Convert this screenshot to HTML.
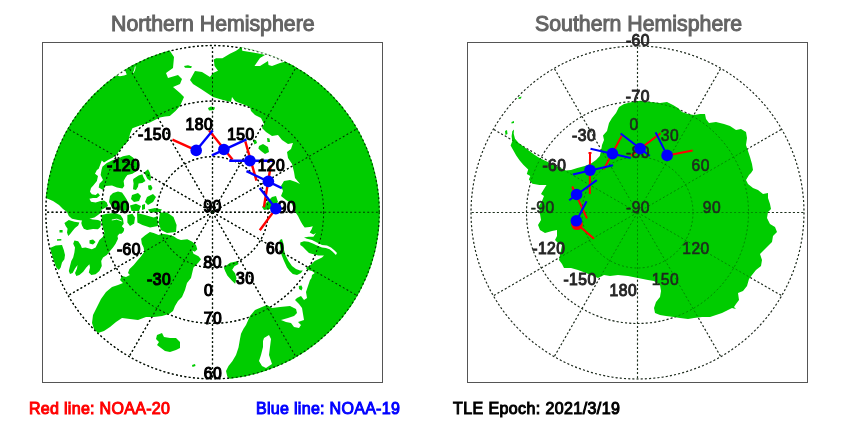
<!DOCTYPE html>
<html>
<head>
<meta charset="utf-8">
<title>Polar hemispheres</title>
<style>
html,body{margin:0;padding:0;background:#fff;}
body{width:850px;height:425px;position:relative;overflow:hidden;font-family:"Liberation Sans",sans-serif;}
svg{position:absolute;left:0;top:0;display:block;will-change:transform;}
.ttl,.leg{will-change:transform;}
.ttl{position:absolute;top:12.3px;font-size:21.3px;line-height:24px;color:#646464;white-space:nowrap;letter-spacing:0px;-webkit-text-stroke:1.0px currentColor;}
.leg{position:absolute;top:398.8px;font-size:16px;line-height:20px;white-space:nowrap;-webkit-text-stroke:1.0px currentColor;letter-spacing:0.3px;}
svg text{font-family:"Liberation Sans",sans-serif;font-size:15.6px;text-anchor:middle;letter-spacing:0.5px;}
.nl text{fill:#000;stroke:#000;stroke-width:1.2px;}
.sl text{fill:#262626;stroke:#262626;stroke-width:1.0px;}
.sl text.g{fill:#1e2a1e;stroke:#1e2a1e;stroke-width:0.6px;}
</style>
</head>
<body>
<svg width="850" height="425" viewBox="0 0 850 425">
<defs>
<clipPath id="cn"><circle cx="212.5" cy="212.2" r="167.4"/></clipPath>
<clipPath id="cs"><circle cx="637.5" cy="212.5" r="167.2"/></clipPath>
</defs>
<rect x="0" y="0" width="850" height="425" fill="#fff"/>
<g fill="none" stroke="#000" stroke-opacity="1.0" stroke-width="1.35" stroke-dasharray="1.9 2.4"><circle cx="212.5" cy="212.2" r="55.57"/><circle cx="212.5" cy="212.2" r="111.13"/><circle cx="212.5" cy="212.2" r="166.70"/><line x1="212.5" y1="212.2" x2="212.5" y2="45.5"/><line x1="212.5" y1="212.2" x2="295.8" y2="67.8"/><line x1="212.5" y1="212.2" x2="356.9" y2="128.8"/><line x1="212.5" y1="212.2" x2="379.2" y2="212.2"/><line x1="212.5" y1="212.2" x2="356.9" y2="295.5"/><line x1="212.5" y1="212.2" x2="295.8" y2="356.6"/><line x1="212.5" y1="212.2" x2="212.5" y2="378.9"/><line x1="212.5" y1="212.2" x2="129.1" y2="356.6"/><line x1="212.5" y1="212.2" x2="68.1" y2="295.6"/><line x1="212.5" y1="212.2" x2="45.8" y2="212.2"/><line x1="212.5" y1="212.2" x2="68.1" y2="128.8"/><line x1="212.5" y1="212.2" x2="129.1" y2="67.8"/></g>
<g fill="none" stroke="#303030" stroke-opacity="1.0" stroke-width="1.15" stroke-dasharray="2 2.2"><circle cx="637.5" cy="212.5" r="55.50"/><circle cx="637.5" cy="212.5" r="111.00"/><circle cx="637.5" cy="212.5" r="166.50"/><line x1="637.5" y1="212.5" x2="637.5" y2="46.0"/><line x1="637.5" y1="212.5" x2="720.8" y2="68.3"/><line x1="637.5" y1="212.5" x2="781.7" y2="129.2"/><line x1="637.5" y1="212.5" x2="804.0" y2="212.5"/><line x1="637.5" y1="212.5" x2="781.7" y2="295.7"/><line x1="637.5" y1="212.5" x2="720.8" y2="356.7"/><line x1="637.5" y1="212.5" x2="637.5" y2="379.0"/><line x1="637.5" y1="212.5" x2="554.2" y2="356.7"/><line x1="637.5" y1="212.5" x2="493.3" y2="295.8"/><line x1="637.5" y1="212.5" x2="471.0" y2="212.5"/><line x1="637.5" y1="212.5" x2="493.3" y2="129.2"/><line x1="637.5" y1="212.5" x2="554.2" y2="68.3"/></g>
<!-- Northern hemisphere land -->
<g clip-path="url(#cn)">
<path d="M172,40 L170,51 L174,57 L173,68 L166,73 L168,78 L178,75 L182,79 L180,84 L173,87 L180,93 L184,97 L180,106 L175.5,111 L169.8,116 L165,116.6 L159.8,117.6 L149.9,122.5 L139.9,125.6 L132.4,128.3 L130,134 L128.6,140 L126,143.7 L123,146 L121,149 L118.7,151.8 L116,155 L113,157.5 L108,160 L104,162.4 L101.8,160.6 L100.6,163.7 L98.7,168.7 L96.9,170 L95,173.7 L98,176 L96.9,181 L93.7,185 L91,188 L90,191.8 L91.9,194.3 L95.6,195 L98,193 L100,195.5 L96.9,198 L93,198 L89.4,198.7 L91,201.8 L95.6,202.4 L100.6,201 L104,200.5 L106.8,202.4 L108,206 L104,208.6 L101,210 L100.5,213 L98,215 L94.4,217.5 L89.4,218.7 L93,219.5 L98,220 L100.9,221.2 L100.6,226.8 L98,229.3 L93,229 L87,230 L83.8,228.7 L82,225.6 L81.3,223 L82,220.6 L78,220 L72,218.7 L68.8,216 L67,212 L63,209 L59,205 L53,201 L46,198 L36,198 L30,150 L40,100 L80,50 L130,30Z" fill="#00cc00"/>
<path d="M102.4,166.8 L106.8,163 L113,160 L117.4,158.7 L123,156.2 L129.3,155 L133,157.5 L135.5,160.6 L138.6,165 L136.7,171 L132.4,173.7 L127.4,175 L125.5,177.4 L123.6,181 L124.3,186 L122.4,188.6 L117,187.4 L112,185.6 L105.6,186 L103,190 L98.7,187.4 L99.4,183.7 L103,180 L100.6,175 L101.5,170Z" fill="#00cc00"/>
<path d="M133.6,178.7 L138.6,175.5 L142.3,174.3 L143.6,177.4 L145.5,181 L142.3,183 L138.6,183.6 L138,186.8 L136,189.9 L133,189.3 L133.6,183.6 L133,179.9Z" fill="#00cc00"/>
<path d="M144.2,172.4 L148,169.3 L149.8,172.4 L151,177.4 L150.4,181 L147.3,178.7 L145.5,175Z" fill="#00cc00"/>
<path d="M148,185.5 L151,185 L152.5,188 L151,190.5 L148.5,189.5Z" fill="#00cc00"/>
<path d="M110,196 L113,193 L118,191.5 L122,192.5 L124.5,196 L127,200 L129,205 L128,210 L123,211 L117,210 L112,207 L109,202Z" fill="#00cc00"/>
<path d="M132,195 L138,193 L141,196 L139,201 L134,202 L131,199Z" fill="#00cc00"/>
<path d="M147,197 L153,194 L156,197 L153,202 L148,205 L145,202Z" fill="#00cc00"/>
<path d="M142,205 L145,204 L145,209 L142,210Z" fill="#00cc00"/>
<path d="M130,205.5 L136,203.7 L141,206 L139,211 L131.5,211Z" fill="#00cc00"/>
<path d="M148,209.5 L155,208 L162,209.5 L160,212 L150,212.5Z" fill="#00cc00"/>
<path d="M160,212.5 L167,212.5 L173.5,217 L176.6,225 L176,232 L167,233 L161,230 L158.5,222.5Z" fill="#00cc00"/>
<path d="M137,213 L145,215 L153.6,217.4 L157.4,216.2 L158,226 L150,227.4 L142.4,225 L137.4,222.4Z" fill="#00cc00"/>
<path d="M127.4,215 L132.4,213.7 L135,217.4 L134.2,223.6 L130,226 L127.4,222.4Z" fill="#00cc00"/>
<path d="M101.9,215 L106.8,213.7 L114.3,213 L120.5,215 L123,218.7 L123.7,223.7 L121.8,226.2 L124.3,228.7 L123,232.4 L119.3,233.7 L117.5,236 L118,238.7 L115.6,243.7 L113,247.4 L110,251 L106.8,255 L103,257.4 L101.2,261 L101.8,266 L99.4,271 L95.6,274.3 L91.3,275 L88.8,272.4 L90,267.4 L89.4,264.3 L86.3,267.4 L83.2,271.7 L79.4,275 L76.3,276 L75,273 L77,268.6 L77.5,264.9 L75,268.6 L72.6,273 L70,274 L68.8,271 L70,266 L71.3,261 L73.2,257.4 L74.4,252.4 L75,247.4 L73.2,243.7 L74.4,240.6 L78.2,241.2 L80.7,245 L81.9,248 L85.6,247.4 L91.9,249.3 L95.6,247.4 L97.5,243.7 L99.4,240 L103,236.8 L104.4,232.5 L103,228 L101.5,221Z" fill="#00cc00"/>
<path d="M64.4,223 L68.8,220 L74.4,221.8 L79.4,222.4 L78.2,225.6 L75,228 L72.5,231 L70,234.3 L68.2,236 L67,232.4 L67.6,228.7 L65.7,226Z" fill="#00cc00"/>
<path d="M50,248 L55.7,245.6 L62,245 L63.8,250 L65,255 L64.4,259.3 L62,262.4 L60.7,267.4 L58.8,270 L56.3,267.4 L53.8,261 L52,255Z" fill="#00cc00"/>
<path d="M57,239.3 L61.3,239 L61.3,240.6 L57,240.8Z" fill="#00cc00"/>
<path d="M59.5,230 L62.6,230 L62.6,232.5 L59.5,232.5Z" fill="#00cc00"/>
<path d="M118.5,228 L121.2,227.6 L124,230.6 L121.2,234 L118.5,232.5Z" fill="#00cc00"/>
<path d="M141.1,238.7 L144.9,235.6 L149.9,231.9 L153.6,233.1 L158.6,235 L162.3,233.7 L167.3,234.4 L173.6,236.2 L177.3,238.7 L181,240 L187.3,239.3 L192.3,241.8 L196,245 L197.3,249.3 L194.8,251.8 L192.3,250.6 L193.5,253.7 L198.5,256.2 L201,259.3 L198.5,262.4 L196,264.9 L193.5,267.4 L192.3,272.4 L191,278 L187,283 L185,290 L182,297 L178,301 L175,306 L173,311 L169,314 L162,316 L154,317 L146,317 L138,320 L130,319 L122,318 L116,322 L110,327 L104,331 L98,333 L94,329 L92,323 L93,315 L97,307 L101,299 L106,292 L112,287 L118,285 L123,283 L120,280 L122,276 L126,277 L129.9,274.9 L128,273 L129.3,269.3 L133.7,264.9 L137.4,260.5 L141.1,256.2 L144.3,251.8 L143.6,247.4 L141.8,243.7Z" fill="#00cc00"/>
<path d="M157,335 L162,333 L164,337 L170,338 L176,338 L180,342 L180,348 L176,350 L170,352 L165,351 L161,348 L157,345 L159,342 L156,339Z" fill="#00cc00"/>
<path d="M192,365 L195,364 L195.5,366 L192.5,367Z" fill="#00cc00"/>
<path d="M223.8,267.6 L230.1,262.7 L237.2,261.3 L238.6,264.1 L234.4,266.2 L232.2,269.7 L235.1,273.3 L236.5,278.2 L235.1,283.8 L231.5,280.3 L227.3,275.4 L225.2,271.2Z" fill="#00cc00"/>
<path d="M279.7,240 L282,239 L283.5,243.7 L284,250 L285.4,255 L288.5,261 L292,266 L296,269 L300,270.5 L302.8,270.5 L301,273 L297,275 L292.8,274 L289.7,271 L287,267.4 L284,261 L281.6,255 L280.4,248.7 L279.7,243.7Z" fill="#00cc00"/>
<path d="M262,207 L266,203 L272,197 L276,196 L278,202 L274,206 L270,209 L264,210Z" fill="#00cc00"/>
<path d="M259,146 L263,144 L268,147 L269,152 L265,154 L261,151 L258.4,148.4Z" fill="#00cc00"/>
<path d="M253,140.5 L256,140 L257,143 L254.5,144.5Z" fill="#00cc00"/>
<path d="M267,138 L269.5,138.5 L270,142 L267.5,142Z" fill="#00cc00"/>
<path d="M208,108 L211,106.5 L215,107.5 L214,110 L209,110.5Z" fill="#00cc00"/>
<path d="M184,66 L188,65.3 L192,66.5 L191,68 L185,67.8Z" fill="#00cc00"/>
<path d="M298.8,286 L301.5,285.5 L302.5,288 L301.5,290.5 L299,289Z" fill="#00cc00"/>
<path d="M250,38 L240,48 L236.1,50.7 L229.9,53.8 L222.4,58.2 L216.1,58.2 L213.8,59.5 L214.5,66 L218,70.7 L213,73 L210,77 L202,72 L195,71 L190,80 L193,84 L201,89 L207,93 L213,97 L223,100 L231,102 L232,97 L235,101 L237,102 L250,107 L251,111 L255,115 L261,118 L264,124 L262,128 L266,132 L272,136 L278,135 L282,140 L288,144 L293,143 L291,149 L287,152 L288,158 L292,164 L294,172 L295,178 L300,184 L296,182 L290,180 L284,181 L281,186 L283,191 L281,196 L286,200 L292,204 L294,210 L298,216 L301,222 L302.8,225 L304.7,227.5 L309.7,226.9 L312.8,226.2 L311.5,229.4 L309.7,232.5 L313.4,234.4 L315.9,233 L313.4,236.8 L308.4,236.8 L304,237.5 L307,238.7 L312,240 L317,242.5 L322,245 L327,245.6 L331,247.4 L334.6,250.6 L337,253 L335.9,255 L332.7,251.8 L329.6,249.3 L325.9,248 L322,247.4 L317,245.6 L313.4,243.7 L308.4,241.8 L304,241.2 L300.3,242.5 L300.3,245 L302.8,246.8 L305.9,250 L309,253 L313.4,254.3 L318.4,255.5 L324,255.5 L322,257.4 L318.4,259.3 L314.7,261 L312,263.7 L309,266 L305.9,268 L307.8,270 L312,271 L314.7,273 L312,275 L311.5,278 L310,280 L308,286 L306,292 L307,298 L304,300 L301,296 L297,298 L295,300 L299,304 L302,308 L303,314 L304,320 L298,322 L301,325 L299,328 L294,327 L291,323 L286,322 L281,320 L288,318 L294,316 L297,313 L296,309 L290,306 L280,307 L272,308 L267,305 L262,307 L255,310 L250,316 L246,325 L243.5,328.7 L241,333.7 L239.8,340 L238.5,347.4 L236,354.9 L232.3,361.2 L228.5,366.1 L226,371.1 L227.3,376.5 L230,379 L230,395 L330,390 L400,300 L400,100 L300,40Z" fill="#00cc00"/>
<path d="M116,75.5 L120,76.3 L124.1,75.6 L126.8,74.6 L125.7,72 L125,69.6 L122,68 L116,72Z" fill="#fff"/>
<path d="M266,52 L265,55 L260,58 L254.5,66 L260,66 L268,61 L268.5,65 L272,66 L280,63 L284,62 L286,58 L275,50Z" fill="#fff"/>
<path d="M264,338 L269,335 L271,339 L270,347 L269,355 L271,361 L272,364 L266,368 L262,366 L259,361 L261,355 L263,347 L263,341Z" fill="#fff"/>
<path d="M241.5,46 L242.3,50.7 L250,52 L257.3,53.2 L263.5,54.5 L266.6,55.9 L268,52 L255,44Z" fill="#fff"/>
<path d="M89.5,240.3 L93,239.5 L95.6,242 L93,244.5 L89.5,243.5Z" fill="#00cc00"/>
<path d="M133.3,72.8 L134.6,70 L135.3,66.5" stroke="#fff" stroke-width="0.9" fill="none"/><path d="M111.8,220 Q116.8,217.8 121.8,221" stroke="#fff" stroke-width="0.9" fill="none"/>
</g>
<!-- Southern hemisphere land -->
<g clip-path="url(#cs)">
<path d="M514,129.5 L513.7,133.7 L515,138.7 L518.7,143 L523.7,146.8 L528.7,150.5 L533.7,154.3 L538.7,157.4 L543.6,160 L547.4,161.8 L556,166 L566,170.5 L571,170 L577.3,168 L584.8,166 L591,163.6 L596,160 L599.8,156 L601,151 L602,145 L604,140 L603,135.5 L607,131 L609,123 L612,118 L616,113 L619,107 L624,104 L632,102 L640,100.8 L650,102 L660,103 L667,102 L673,105 L678,108 L682,112 L688,114 L694,115 L700,114 L705,114 L706,119 L709,123 L716,122 L724,124 L730,126 L736,130 L741,129 L746,132 L747,138 L746,145 L748,151 L750,157 L752,164 L753,170 L751,173 L749,175 L746,180 L748,184 L753,188 L758,190 L763,194 L768,193 L768,198 L770,204 L771,209 L768,212 L767,218 L770,224 L775,227 L777,232 L773,236 L772,242 L768,246 L764,250 L760,254 L762,260 L761,266 L756,270 L752,275 L749,279 L747,286 L743,291 L738,293 L739,300 L736,304 L734,307 L736,309 L732,308 L728,310 L722,313 L716,315 L710,317 L702,317 L694,318 L688,319 L680,318 L674,317 L666,316 L660,315 L655,313 L654,308 L656,302 L660,297 L661,291 L660,285 L654,281 L648,280 L638,278 L628,276 L618,275 L610,276 L604,275 L598,278 L586,273 L578,270 L571,268 L564,268 L562,264 L559,260 L560,255 L562,245 L558,243 L555,240 L557,236 L557,230 L552,231 L545,233 L540,230 L538,225 L541,220 L540,214 L539,206 L542,201 L544,196 L541,194 L544,189 L546.5,185.1 L539.5,185.1 L532.4,183.7 L528.9,179.5 L530.3,176 L526.8,173.9 L528.2,169.6 L523.3,164.7 L519.7,160.5 L516.2,155.5 L513.4,150.6 L510.6,145.6 L512.3,141.2 L511.6,136.2 L512.3,131.2Z" fill="#00cc00"/>
<path d="M505,131 L507,130 L507.5,134 L505.5,135Z" fill="#00cc00"/>
<path d="M518.5,97.5 L521.5,96.5 L521,98.5 L518.5,99Z" fill="#00cc00"/>
<path d="M511.5,122 L514,121 L514,123 L511.5,123.5Z" fill="#00cc00"/>

</g>
<g clip-path="url(#cn)"><g fill="none" stroke="#001800" stroke-opacity="0.85" stroke-width="1.05" stroke-dasharray="1.9 2.4"><circle cx="212.5" cy="212.2" r="55.57"/><circle cx="212.5" cy="212.2" r="111.13"/><circle cx="212.5" cy="212.2" r="166.70"/><line x1="212.5" y1="212.2" x2="212.5" y2="45.5"/><line x1="212.5" y1="212.2" x2="295.8" y2="67.8"/><line x1="212.5" y1="212.2" x2="356.9" y2="128.8"/><line x1="212.5" y1="212.2" x2="379.2" y2="212.2"/><line x1="212.5" y1="212.2" x2="356.9" y2="295.5"/><line x1="212.5" y1="212.2" x2="295.8" y2="356.6"/><line x1="212.5" y1="212.2" x2="212.5" y2="378.9"/><line x1="212.5" y1="212.2" x2="129.1" y2="356.6"/><line x1="212.5" y1="212.2" x2="68.1" y2="295.6"/><line x1="212.5" y1="212.2" x2="45.8" y2="212.2"/><line x1="212.5" y1="212.2" x2="68.1" y2="128.8"/><line x1="212.5" y1="212.2" x2="129.1" y2="67.8"/></g></g>
<g clip-path="url(#cs)"><g fill="none" stroke="#003000" stroke-opacity="0.5" stroke-width="0.85" stroke-dasharray="2 2.2"><circle cx="637.5" cy="212.5" r="55.50"/><circle cx="637.5" cy="212.5" r="111.00"/><circle cx="637.5" cy="212.5" r="166.50"/><line x1="637.5" y1="212.5" x2="637.5" y2="46.0"/><line x1="637.5" y1="212.5" x2="720.8" y2="68.3"/><line x1="637.5" y1="212.5" x2="781.7" y2="129.2"/><line x1="637.5" y1="212.5" x2="804.0" y2="212.5"/><line x1="637.5" y1="212.5" x2="781.7" y2="295.7"/><line x1="637.5" y1="212.5" x2="720.8" y2="356.7"/><line x1="637.5" y1="212.5" x2="637.5" y2="379.0"/><line x1="637.5" y1="212.5" x2="554.2" y2="356.7"/><line x1="637.5" y1="212.5" x2="493.3" y2="295.8"/><line x1="637.5" y1="212.5" x2="471.0" y2="212.5"/><line x1="637.5" y1="212.5" x2="493.3" y2="129.2"/><line x1="637.5" y1="212.5" x2="554.2" y2="68.3"/></g></g>
<rect x="42.5" y="42.5" width="340" height="340" fill="none" stroke="#555" stroke-width="1"/>
<rect x="467.5" y="42.5" width="340" height="340" fill="none" stroke="#555" stroke-width="1"/>
<line x1="172.4" y1="139.7" x2="196.2" y2="150.4" stroke="#ff0000" stroke-width="2.4"/><line x1="209.1" y1="130.6" x2="232.5" y2="159.4" stroke="#ff0000" stroke-width="2.4"/><line x1="245.3" y1="141.3" x2="256.5" y2="180.7" stroke="#ff0000" stroke-width="2.4"/><line x1="270.7" y1="166" x2="263.9" y2="207.2" stroke="#ff0000" stroke-width="2.4"/><line x1="275.8" y1="208.6" x2="259.8" y2="230.3" stroke="#ff0000" stroke-width="2.4"/><line x1="196.2" y1="150.4" x2="212.7" y2="130.6" stroke="#0000ff" stroke-width="2.4"/><line x1="211.9" y1="155.3" x2="246.5" y2="139.3" stroke="#0000ff" stroke-width="2.4"/><line x1="229.2" y1="160.7" x2="273.7" y2="160.7" stroke="#0000ff" stroke-width="2.4"/><line x1="246.5" y1="171.2" x2="281.9" y2="188.1" stroke="#0000ff" stroke-width="2.4"/><line x1="259.7" y1="188.1" x2="275.8" y2="208.6" stroke="#0000ff" stroke-width="2.4"/>
<line x1="590" y1="153" x2="589.8" y2="193.9" stroke="#ff0000" stroke-width="2.0"/><line x1="603.7" y1="169.4" x2="621.8" y2="135.7" stroke="#ff0000" stroke-width="2.0"/><line x1="630.8" y1="155.9" x2="660.5" y2="133.2" stroke="#ff0000" stroke-width="2.0"/><line x1="667.1" y1="155.4" x2="692.6" y2="150.5" stroke="#ff0000" stroke-width="2.0"/><line x1="572.2" y1="186.5" x2="587" y2="218.3" stroke="#ff0000" stroke-width="2.0"/><line x1="577" y1="224" x2="594" y2="238.8" stroke="#ff0000" stroke-width="2.0"/><line x1="588.5" y1="153" x2="591.5" y2="153" stroke="#ff0000" stroke-width="2.0"/><line x1="572.8" y1="174.4" x2="613" y2="165.3" stroke="#0000ff" stroke-width="2.0"/><line x1="590.5" y1="148.8" x2="630.8" y2="157.9" stroke="#0000ff" stroke-width="2.0"/><line x1="620.6" y1="133.5" x2="649.8" y2="155.9" stroke="#0000ff" stroke-width="2.0"/><line x1="655.6" y1="132.4" x2="667.1" y2="155.4" stroke="#0000ff" stroke-width="2.0"/><line x1="569.2" y1="200.3" x2="596.8" y2="180.1" stroke="#0000ff" stroke-width="2.0"/><line x1="576.4" y1="221" x2="586.6" y2="201.3" stroke="#0000ff" stroke-width="2.0"/>
<g class="nl"><text x="199.3" y="129.5">180</text><text x="154.6" y="140.3">-150</text><text x="240.9" y="140.3">150</text><text x="123.6" y="170.6">-120</text><text x="271.4" y="170.9">120</text><text x="117.7" y="213">-90</text><text x="212.6" y="212.2">90</text><text x="286.9" y="212.7">90</text><text x="128.9" y="254.6">-60</text><text x="275.1" y="254.3">60</text><text x="159.1" y="285.1">-30</text><text x="245.2" y="284.4">30</text><text x="208.6" y="296.4">0</text><text x="212.8" y="268.1">80</text><text x="213" y="323.8">70</text><text x="213" y="379">60</text></g>
<g class="sl"><text x="637.9" y="46.3">-60</text><text x="637.8" y="101.6">-70</text><text x="637.9" y="158" class="g">-80</text><text x="634.1" y="129.6" class="g">0</text><text x="584.1" y="140.6">-30</text><text x="670" y="140.6" class="g">30</text><text x="554.4" y="170.6">-60</text><text x="700.7" y="171.2" class="g">60</text><text x="542.7" y="213" class="g">-90</text><text x="638" y="213" class="g">-90</text><text x="712" y="213" class="g">90</text><text x="548.8" y="254.3">-120</text><text x="696" y="254.3" class="g">120</text><text x="580" y="284.9">-150</text><text x="665.4" y="284.9" class="g">150</text><text x="623.3" y="296.3">180</text></g>
<circle cx="196.2" cy="150.4" r="5.8" fill="#0000ff"/><circle cx="223.9" cy="149.5" r="5.8" fill="#0000ff"/><circle cx="249.9" cy="160.7" r="5.8" fill="#0000ff"/><circle cx="268.4" cy="181.4" r="5.8" fill="#0000ff"/><circle cx="275.8" cy="208.6" r="5.8" fill="#0000ff"/>
<circle cx="577" cy="224.3" r="5.8" fill="#ff0000"/><circle cx="590" cy="170.2" r="5.8" fill="#0000ff"/><circle cx="612.4" cy="153.6" r="5.8" fill="#0000ff"/><circle cx="640.1" cy="148.6" r="5.8" fill="#0000ff"/><circle cx="667.1" cy="155.4" r="5.8" fill="#0000ff"/><circle cx="576.6" cy="194.5" r="5.8" fill="#0000ff"/><circle cx="576.3" cy="220.8" r="5.8" fill="#0000ff"/>
</svg>
<div class="ttl" style="left:111px;">Northern Hemisphere</div>
<div class="ttl" style="left:535px;">Southern Hemisphere</div>
<div class="leg" style="left:29px;color:#ff0000;">Red line: NOAA-20</div>
<div class="leg" style="left:256px;color:#0000ff;">Blue line: NOAA-19</div>
<div class="leg" style="left:453px;color:#000;letter-spacing:0.4px;">TLE Epoch: 2021/3/19</div>
</body>
</html>
